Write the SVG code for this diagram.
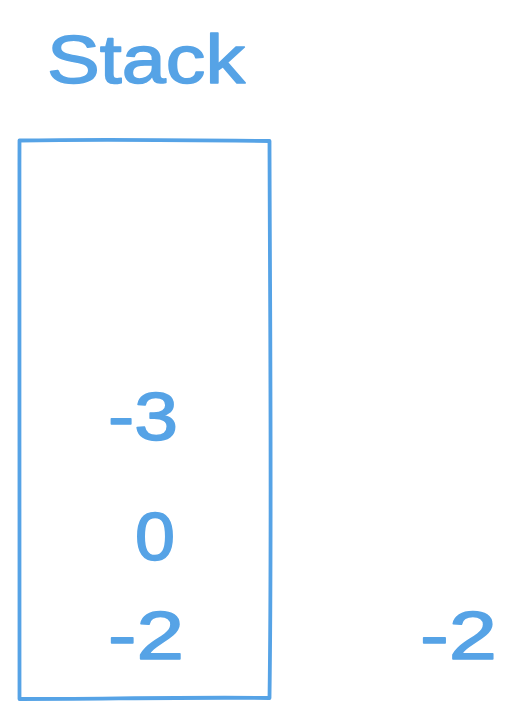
<svg xmlns="http://www.w3.org/2000/svg" width="519" height="720" viewBox="0 0 519 720">
<style>
.t{font-family:"Liberation Sans","DejaVu Sans",sans-serif;font-size:68px;fill:#56a3e6;stroke:#56a3e6;stroke-width:1.5px;stroke-linejoin:round}
.box{fill:none;stroke:#56a3e6;stroke-width:3.8;stroke-linecap:round;stroke-linejoin:round}
</style>
<rect width="519" height="720" fill="#ffffff"/>
<g id="title"><text class="t" x="47" y="83" textLength="198" lengthAdjust="spacingAndGlyphs">Stack</text></g>
<g id="stack">
<path class="box" d="M19.5 140.5 C100 139 190 140 269.5 141 C270 330 272 520 269.5 698 C190 697 100 699 19.5 699 C20 520 19 330 19.5 140.5 Z"/>
</g>
<g id="v1"><text class="t" x="108" y="440" textLength="70" lengthAdjust="spacingAndGlyphs">-3</text></g>
<g id="v2"><text class="t" x="135" y="560" textLength="40" lengthAdjust="spacingAndGlyphs">0</text></g>
<g id="v3"><text class="t" x="108" y="659" textLength="76" lengthAdjust="spacingAndGlyphs">-2</text></g>
<g id="out"><text class="t" x="420" y="659" textLength="77" lengthAdjust="spacingAndGlyphs">-2</text></g>
<g id="connectors"></g>
</svg>
